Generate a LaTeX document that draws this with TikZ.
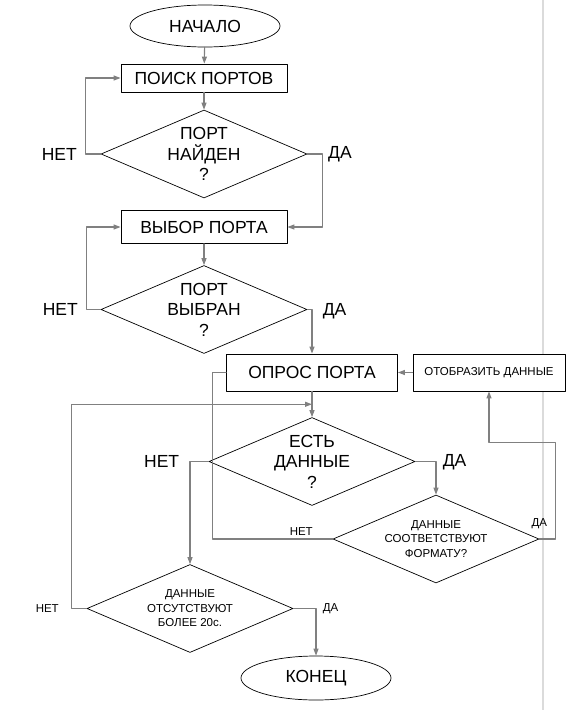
\documentclass[tikz,border=0pt]{standalone}
\usepackage{fontspec}
\setmainfont{Liberation Sans}
\usetikzlibrary{shapes.geometric,positioning,arrows.meta,calc}
\begin{document}
\begin{tikzpicture}[x=1pt,y=-1pt,font=\fontsize{17.5}{20.5}\selectfont, line join=round,line cap=round,>={Triangle[length=7pt,width=5pt]},
	term/.style={ellipse,draw,line width=.7pt,minimum width=150pt,minimum height=42pt,inner sep=0pt},
	proc/.style={rectangle,draw,line width=.8pt,fill=white,inner sep=0pt,align=center},
	cond/.style={diamond,draw,line width=.7pt,aspect=2.34,minimum width=206pt,minimum height=88pt,inner sep=0pt,align=center},
	small/.style={font=\fontsize{11.5}{14.5}\selectfont},
	line/.style={draw=black!50,line width=1.1pt},
	arr/.style={line,->}]
	\useasboundingbox (0,0) rectangle (567,710);
	\draw[black!14,line width=2pt] (543,0)--(543,710);
	\node[term] (start) at (205,26) {НАЧАЛО};
	\node[proc,minimum width=166pt,minimum height=28pt] (search) at (204,78) {ПОИСК ПОРТОВ};
	\node[cond] (found) at (204,154) {ПОРТ\\НАЙДЕН\\?};
	\node[proc,minimum width=166pt,minimum height=33pt] (select) at (204,227) {ВЫБОР ПОРТА};
	\node[cond] (chosen) at (204,309.5) {ПОРТ\\ВЫБРАН\\?};
	\node[proc,minimum width=171pt,minimum height=37pt] (poll) at (312,372.5) {ОПРОС ПОРТА};
	\node[proc,small,minimum width=152pt,minimum height=37pt] (show) at (489,372.5) {ОТОБРАЗИТЬ ДАННЫЕ};
	\node[cond] (data) at (312,461.5) {ЕСТЬ\\ДАННЫЕ\\?};
	\node[cond,small] (check) at (436,539) {ДАННЫЕ\\СООТВЕТСТВУЮТ\\ФОРМАТУ?};
	\node[cond,small] (absent) at (190,608.5) {ДАННЫЕ\\ОТСУТСТВУЮТ\\БОЛЕЕ 20с.};
	\node[term,minimum height=44pt] (end) at (316,678) {КОНЕЦ};
	\coordinate (join) at ($(poll.south)!.5!(data.north)$);
	\draw[arr] (start)--(search);
	\draw[arr] (search)--(found);
	\draw[arr] (found.west)--++(-15pt,0)node[left=5pt]{НЕТ} |-(search.west);
	\draw[arr] (found.east)--++(15pt,0)node[right=2pt]{ДА} |-(select.east);
	\draw[arr] (select)--(chosen);
	\draw[arr] (chosen.west)--++(-14pt,0)node[left=5pt]{НЕТ} |-(select.west);
	\draw[arr] (chosen.east)-|node[right=7pt,yshift=-2pt]{ДА}(poll.north);
	\draw[arr] (poll.south)--(data.north);
	\draw[arr] (show.west)--(poll.east);
	\draw[arr] (data.west)-|node[left=7pt]{НЕТ}(absent.north);
	\draw[arr] (data.east)-|node[right=3pt,yshift=-1pt]{ДА}(check.north);
	\draw[line] (check.west)node[small,above left=0pt and 16pt]{НЕТ}--([xshift=-14pt]poll.west|-check.west)|-(poll.west);
	\draw[arr] (check.east)node[small,above=6pt]{ДА}--++(16pt,0)|-([yshift=-51pt]show.south)--(show.south);
	\draw[arr] (absent.west)--++(-15pt,0)node[small,left=9pt]{НЕТ} |-(join);
	\draw[arr] (absent.east)-|node[small,right=3pt]{ДА}(end.north);
\end{tikzpicture}
\end{document}
